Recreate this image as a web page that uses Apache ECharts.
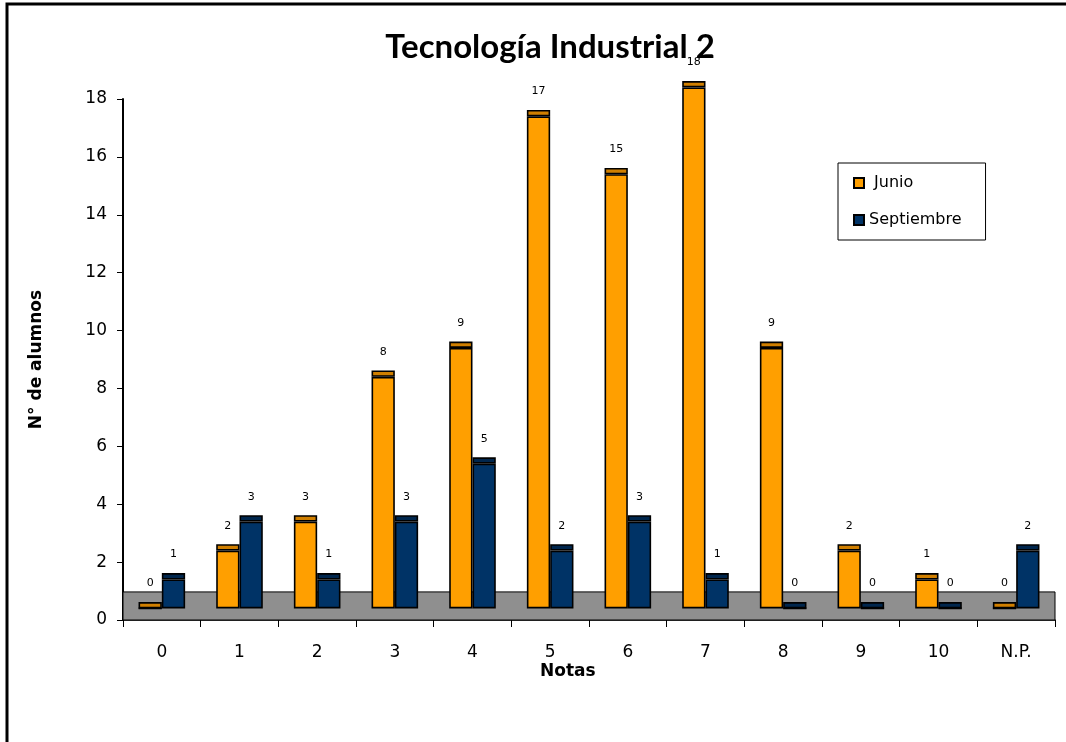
<!DOCTYPE html>
<html>
<head>
<meta charset="utf-8">
<script src="https://cdn.jsdelivr.net/npm/echarts@6/dist/echarts.min.js"></script>
<style>
html,body{margin:0;padding:0;background:#fff;}
#chart{width:1066px;height:742px;}
</style>
</head>
<body>
<div id="chart"></div>
<script>
// ---- data ----
const categories = ['0','1','2','3','4','5','6','7','8','9','10','N.P.'];
const junio      = [0, 2, 3, 8, 9, 17, 15, 18, 9, 2, 1, 0];
const septiembre = [1, 3, 1, 3, 5, 2, 3, 1, 0, 0, 0, 2];
const yTicks = { min: 0, max: 18, interval: 2 };

// ---- 3D-look constants (style) ----
const BAR_BASE = 0.4;   // bars float on the grey floor
const CAP = 0.22;       // darker top face
const FLOOR_TOP = 0.97;

const FONT = 'Lato, "DejaVu Sans", sans-serif';
const SANS = '"DejaVu Sans", sans-serif';

const chart = echarts.init(document.getElementById('chart'), null, {renderer:'canvas'});

function stackSeries(name, values, stack, color, capColor) {
  const base = values.map(() => BAR_BASE);
  const caps = values.map(() => CAP);
  return [
    { name: name + '_base', type: 'bar', stack: stack, data: base, silent: true,
      itemStyle: { color: 'transparent', borderWidth: 0 }, clip: false },
    { name: name, type: 'bar', stack: stack, data: values, clip: false,
      itemStyle: { color: color, borderColor: '#000', borderWidth: 1.6 } },
    { name: name + '_cap', type: 'bar', stack: stack, data: caps, clip: false,
      itemStyle: { color: capColor, borderColor: '#000', borderWidth: 1.6 },
      label: { show: true, position: 'top', distance: 13, color: '#000',
               fontFamily: SANS, fontSize: 11,
               formatter: p => String(values[p.dataIndex]) } }
  ];
}

const series = [
  ...stackSeries('Junio', junio, 'j', '#FF9F00', '#D07F00'),
  ...stackSeries('Septiembre', septiembre, 's', '#003366', '#00264D')
];
series[0].markArea = {
  silent: true,
  itemStyle: { color: '#8F8F8F', borderColor: '#000', borderWidth: 1 },
  data: [[{ yAxis: 0 }, { yAxis: FLOOR_TOP }]]
};
series.forEach(s => { s.barGap = '0%'; s.barCategoryGap = '40%'; });

chart.setOption({
  animation: false,
  backgroundColor: '#fff',
  title: {
    text: 'Tecnología Industrial 2',
    left: 545, top: 26, textAlign: 'center',
    textStyle: { fontFamily: FONT, fontWeight: 'bold', fontSize: 33, color: '#000' }
  },
  legend: {
    data: ['Junio', 'Septiembre'],
    orient: 'vertical',
    left: 838, top: 163,
    padding: [12, 24, 12, 15],
    itemGap: 21,
    itemWidth: 10, itemHeight: 10,
    icon: 'rect',
    borderColor: '#000', borderWidth: 1,
    formatter: n => n === 'Junio' ? ' Junio' : n,
    textStyle: { fontFamily: SANS, fontSize: 16, color: '#000' }
  },
  grid: { left: 123, right: 11, top: 99, bottom: 122 },
  xAxis: {
    type: 'category',
    data: categories,
    axisLine: { lineStyle: { color: '#000', width: 1.5 } },
    axisTick: { show: true, length: 7, lineStyle: { color: '#000' } },
    axisLabel: { color: '#000', fontFamily: SANS, fontSize: 17, margin: 24 }
  },
  yAxis: {
    type: 'value',
    min: yTicks.min, max: yTicks.max, interval: yTicks.interval,
    name: 'N° de alumnos',
    nameLocation: 'middle', nameGap: 78,
    nameTextStyle: { fontFamily: SANS, fontWeight: 'bold', fontSize: 17, color: '#000' },
    axisLine: { show: true, lineStyle: { color: '#000', width: 2 } },
    axisTick: { show: true, inside: false, length: 6, lineStyle: { color: '#000' } },
    splitLine: { show: false },
    axisLabel: { color: '#000', fontFamily: SANS, fontSize: 17, margin: 16 }
  },
  graphic: [
    { type: 'text', left: 540, top: 663,
      style: { text: 'Notas', font: 'bold 17px "DejaVu Sans", sans-serif', fill: '#000' } },
    { type: 'rect', shape: { x: 7, y: 4, width: 1200, height: 900 }, z: -10,
      style: { fill: 'none', stroke: '#000', lineWidth: 3 } }
  ],
  series: series
});
</script>
</body>
</html>
